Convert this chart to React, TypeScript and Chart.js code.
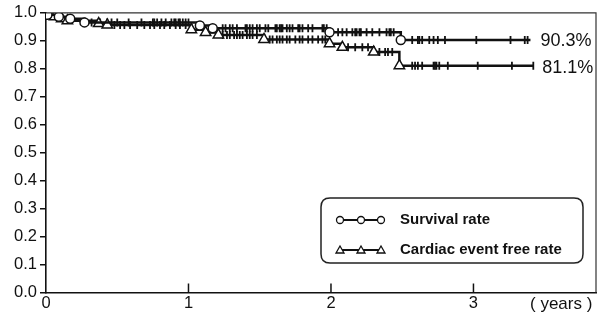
import React, { useEffect, useRef } from "react";
import { Chart, registerables } from "chart.js";

Chart.register(...registerables);

// ---- data ----
const xTickValues = [0, 1, 2, 3];
const yMin = 0;
const yMax = 1.0;
const xMax = 3.86;

const survivalLabel = "Survival rate";
const survivalTimes = [0, 0.01, 0.09, 0.17, 0.27, 1.08, 1.17, 1.99, 2.49, 3.4];
const survivalValues = [1.0, 0.993, 0.986, 0.979, 0.966, 0.955, 0.945, 0.931, 0.903, 0.903];
const survivalCensored = [
  0.32, 0.38, 0.43, 0.46, 0.5, 0.58, 0.67, 0.75, 0.76, 0.78, 0.81, 0.84, 0.88, 0.9, 0.91, 0.93, 0.94, 0.96, 0.98, 1.0,
  1.24, 1.26, 1.29, 1.31, 1.34, 1.4, 1.41, 1.43, 1.45, 1.48, 1.5, 1.54, 1.56, 1.61, 1.62, 1.64, 1.65, 1.66, 1.69, 1.71,
  1.73, 1.77, 1.78, 1.8, 1.84, 1.87, 1.94, 1.95, 1.97,
  2.05, 2.08, 2.11, 2.15, 2.17, 2.18, 2.2, 2.21, 2.25, 2.29, 2.34, 2.39, 2.41, 2.42, 2.44,
  2.57, 2.61, 2.62, 2.64, 2.69, 2.72, 2.75, 2.8, 3.02, 3.26, 3.36, 3.38,
];
const survivalFinalText = "90.3%";

const eventFreeLabel = "Cardiac event free rate";
const eventFreeTimes = [0, 0.06, 0.11, 0.15, 0.37, 0.43, 1.02, 1.12, 1.21, 1.53, 1.99, 2.08, 2.3, 2.48, 3.42];
const eventFreeValues = [1.0, 0.986, 0.979, 0.972, 0.962, 0.957, 0.94, 0.93, 0.921, 0.905, 0.89, 0.877, 0.86, 0.811, 0.811];
const eventFreeCensored = [
  0.48, 0.52, 0.55, 0.59, 0.64, 0.69, 0.73, 0.76, 0.8, 0.83, 0.87, 0.91, 0.94, 0.98,
  1.24, 1.27, 1.29, 1.32, 1.34, 1.36, 1.38, 1.41, 1.43, 1.45, 1.48,
  1.57, 1.59, 1.62, 1.64, 1.66, 1.69, 1.71, 1.75, 1.78, 1.8, 1.84, 1.87, 1.91, 1.94, 1.96,
  2.12, 2.17, 2.22, 2.26, 2.34, 2.38, 2.4, 2.43,
  2.57, 2.59, 2.61, 2.64, 2.72, 2.73, 2.74, 2.76, 2.82, 3.03, 3.27, 3.42,
];
const eventFreeFinalText = "81.1%";

const xAxisTitle = "( years )";

// ---- helpers ----
function stepValue(times: number[], values: number[], t: number) {
  let v = values[0];
  for (let i = 0; i < times.length; i++) {
    if (times[i] <= t) v = values[i];
  }
  return v;
}

const INK = "#111";
const FONT = "'Liberation Sans', Arial, sans-serif";

const decorPlugin = {
  id: "decor",
  afterDraw(chart: any) {
    const { ctx, chartArea } = chart;
    const xs = chart.scales.x;
    const ys = chart.scales.y;
    ctx.save();
    // top & right frame
    ctx.strokeStyle = "#333";
    ctx.lineWidth = 1.2;
    ctx.beginPath();
    ctx.moveTo(chartArea.left, chartArea.top);
    ctx.lineTo(chartArea.right, chartArea.top);
    ctx.lineTo(chartArea.right, chartArea.bottom);
    ctx.stroke();
    // inner x tick marks
    ctx.strokeStyle = INK;
    ctx.lineWidth = 1.5;
    xTickValues.forEach((v) => {
      if (v === 0) return;
      const px = xs.getPixelForValue(v);
      ctx.beginPath();
      ctx.moveTo(px, chartArea.bottom);
      ctx.lineTo(px, chartArea.bottom - 9);
      ctx.stroke();
    });
    // x axis title
    ctx.fillStyle = INK;
    ctx.font = `17px ${FONT}`;
    ctx.textAlign = "left";
    ctx.textBaseline = "middle";
    ctx.fillText(xAxisTitle, 530, 304);
    // end labels
    ctx.font = `18px ${FONT}`;
    ctx.fillText(
      survivalFinalText,
      xs.getPixelForValue(survivalTimes[survivalTimes.length - 1]) + 10,
      ys.getPixelForValue(survivalValues[survivalValues.length - 1]) + 1
    );
    ctx.fillText(
      eventFreeFinalText,
      xs.getPixelForValue(eventFreeTimes[eventFreeTimes.length - 1]) + 9,
      ys.getPixelForValue(eventFreeValues[eventFreeValues.length - 1]) + 2
    );
    // legend box
    const bx = 321, by = 198, bw = 262, bh = 65, r = 9;
    ctx.lineWidth = 1.5;
    ctx.strokeStyle = "#222";
    ctx.fillStyle = "#fff";
    ctx.beginPath();
    ctx.moveTo(bx + r, by);
    ctx.lineTo(bx + bw - r, by);
    ctx.quadraticCurveTo(bx + bw, by, bx + bw, by + r);
    ctx.lineTo(bx + bw, by + bh - r);
    ctx.quadraticCurveTo(bx + bw, by + bh, bx + bw - r, by + bh);
    ctx.lineTo(bx + r, by + bh);
    ctx.quadraticCurveTo(bx, by + bh, bx, by + bh - r);
    ctx.lineTo(bx, by + r);
    ctx.quadraticCurveTo(bx, by, bx + r, by);
    ctx.closePath();
    ctx.fill();
    ctx.stroke();
    const rows = [
      { y: 220, style: "circle", text: survivalLabel },
      { y: 250, style: "triangle", text: eventFreeLabel },
    ];
    rows.forEach((row) => {
      ctx.strokeStyle = INK;
      ctx.lineWidth = 2;
      ctx.beginPath();
      ctx.moveTo(339, row.y);
      ctx.lineTo(382, row.y);
      ctx.stroke();
      [340, 361, 381].forEach((mx) => {
        ctx.lineWidth = 1.3;
        ctx.fillStyle = "#fff";
        ctx.beginPath();
        if (row.style === "circle") {
          ctx.arc(mx, row.y, 3.5, 0, Math.PI * 2);
        } else {
          ctx.moveTo(mx, row.y - 4);
          ctx.lineTo(mx + 4, row.y + 3);
          ctx.lineTo(mx - 4, row.y + 3);
          ctx.closePath();
        }
        ctx.fill();
        ctx.stroke();
      });
      ctx.fillStyle = INK;
      ctx.font = `bold 15px ${FONT}`;
      ctx.textAlign = "left";
      ctx.textBaseline = "middle";
      ctx.fillText(row.text, 400, row.y);
    });
    ctx.restore();
  },
};

export default function App() {
  const canvasRef = useRef<HTMLCanvasElement | null>(null);

  useEffect(() => {
    if (!canvasRef.current) return;
    const survivalPts = survivalTimes.map((t, i) => ({ x: t, y: survivalValues[i] }));
    const eventPts = eventFreeTimes.map((t, i) => ({ x: t, y: eventFreeValues[i] }));
    const survivalCens = survivalCensored.map((t) => ({ x: t, y: stepValue(survivalTimes, survivalValues, t) }));
    const eventCens = eventFreeCensored.map((t) => ({ x: t, y: stepValue(eventFreeTimes, eventFreeValues, t) }));

    const markerRadius = (n: number, r: number) => (ctx: any) =>
      ctx.dataIndex === 0 || ctx.dataIndex === n - 1 ? 0 : r;

    const chart = new Chart(canvasRef.current, {
      type: "line",
      data: {
        datasets: [
          {
            label: survivalLabel,
            data: survivalPts,
            stepped: "before",
            borderColor: INK,
            borderWidth: 2.5,
            pointStyle: "circle",
            pointRadius: markerRadius(survivalPts.length, 4.5),
            pointBackgroundColor: "#fff",
            pointBorderColor: INK,
            pointBorderWidth: 1.5,
          },
          {
            label: eventFreeLabel,
            data: eventPts,
            stepped: "before",
            borderColor: INK,
            borderWidth: 2.5,
            pointStyle: "triangle",
            pointRadius: markerRadius(eventPts.length, 6),
            pointBackgroundColor: "#fff",
            pointBorderColor: INK,
            pointBorderWidth: 1.5,
          },
          {
            label: "s-cens",
            data: survivalCens,
            showLine: false,
            pointStyle: "line",
            rotation: 90,
            pointRadius: 4,
            borderColor: INK,
            pointBorderColor: INK,
            pointBorderWidth: 1.8,
          },
          {
            label: "e-cens",
            data: eventCens,
            showLine: false,
            pointStyle: "line",
            rotation: 90,
            pointRadius: 4,
            borderColor: INK,
            pointBorderColor: INK,
            pointBorderWidth: 1.8,
          },
        ],
      },
      options: {
        animation: false,
        responsive: true,
        maintainAspectRatio: false,
        layout: { padding: { top: 10.5, right: 7, left: 0, bottom: 0 } },
        plugins: { legend: { display: false }, tooltip: { enabled: false } },
        scales: {
          x: {
            type: "linear",
            min: 0,
            max: xMax,
            afterFit: (s: any) => {
              s.height = 25.5;
            },
            afterBuildTicks: (s: any) => {
              s.ticks = xTickValues.map((v) => ({ value: v }));
            },
            grid: { display: false, drawTicks: false },
            border: { display: true, color: INK, width: 1.6 },
            ticks: {
              padding: 1,
              color: INK,
              font: { family: FONT, size: 16.5 },
              maxRotation: 0,
              callback: (v: any) => String(v),
            },
          },
          y: {
            type: "linear",
            min: yMin,
            max: yMax,
            afterFit: (s: any) => {
              s.width = 46;
            },
            grid: {
              display: true,
              drawOnChartArea: false,
              drawTicks: true,
              tickLength: 6,
              color: INK,
              lineWidth: 1.5,
            },
            border: { display: true, color: INK, width: 1.6 },
            ticks: {
              stepSize: 0.1,
              padding: 3,
              color: INK,
              font: { family: FONT, size: 16.5 },
              callback: (v: any) => Number(v).toFixed(1),
            },
          },
        },
      },
      plugins: [decorPlugin],
    } as any);
    return () => chart.destroy();
  }, []);

  return (
    <div style={{ position: "absolute", left: 0, top: 0, width: 603, height: 318, background: "#fff" }}>
      <canvas ref={canvasRef} />
    </div>
  );
}
